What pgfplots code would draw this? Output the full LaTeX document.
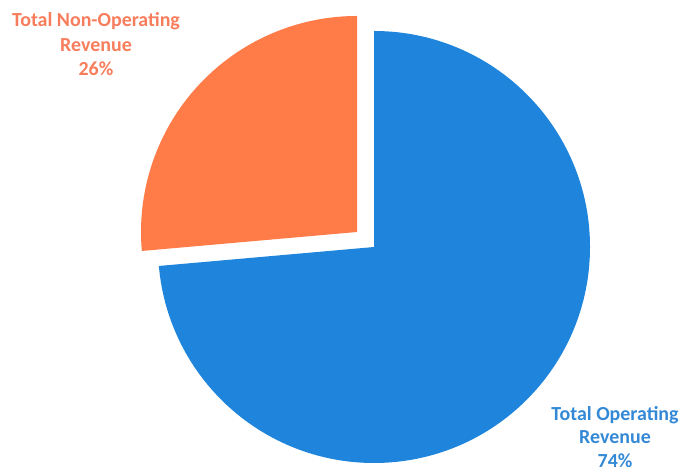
\documentclass[border=0pt]{standalone}
\usepackage{pgfplots}
\pgfplotsset{compat=1.18}
\usepackage{pgfplotstable}
\usepackage{fontspec}
\setmainfont{Carlito}
\definecolor{opblue}{HTML}{1F85DC}
\definecolor{nonorange}{HTML}{FF7B48}
\definecolor{bluetext}{HTML}{3489D6}
\definecolor{orangetext}{HTML}{F77D5C}
\pgfplotstableread{
label value
Operating 73.6
NonOperating 26.4
}\revtable
\begin{document}
\begin{tikzpicture}
\useasboundingbox (0,0) rectangle (681bp,467bp);
\pgfplotstablegetelem{0}{value}\of\revtable \let\opval\pgfplotsretval
\pgfplotstablegetelem{1}{value}\of\revtable \let\nonval\pgfplotsretval
\pgfmathsetmacro\opend{90-3.6*\opval}
\pgfmathsetmacro\nonend{90+3.6*\nonval}
\begin{axis}[
  at={(0,0)}, anchor=south west,
  scale only axis, width=681bp, height=467bp,
  xmin=0, xmax=681, ymin=0, ymax=467,
  hide axis, clip=false,
]
% Operating revenue sector (blue), centre at (374,220)
\fill[opblue] (axis cs:374,220) -- (axis cs:374,436) arc[start angle=90, end angle=\opend, radius=216] -- cycle;
% Non-operating revenue sector (orange), exploded
\fill[nonorange] (axis cs:357,235) -- (axis cs:357,451) arc[start angle=90, end angle=\nonend, radius=216] -- cycle;
\node[anchor=north, align=center, font=\fontsize{20}{24.5}\selectfont\bfseries, text=orangetext, inner sep=0pt]
  at (axis cs:96,454.5) {Total Non-Operating\\Revenue\\26\%};
\node[anchor=north, align=center, font=\fontsize{20}{23.5}\selectfont\bfseries, text=bluetext, inner sep=0pt]
  at (axis cs:615,61) {Total Operating\\Revenue\\74\%};
\end{axis}
\end{tikzpicture}
\end{document}
